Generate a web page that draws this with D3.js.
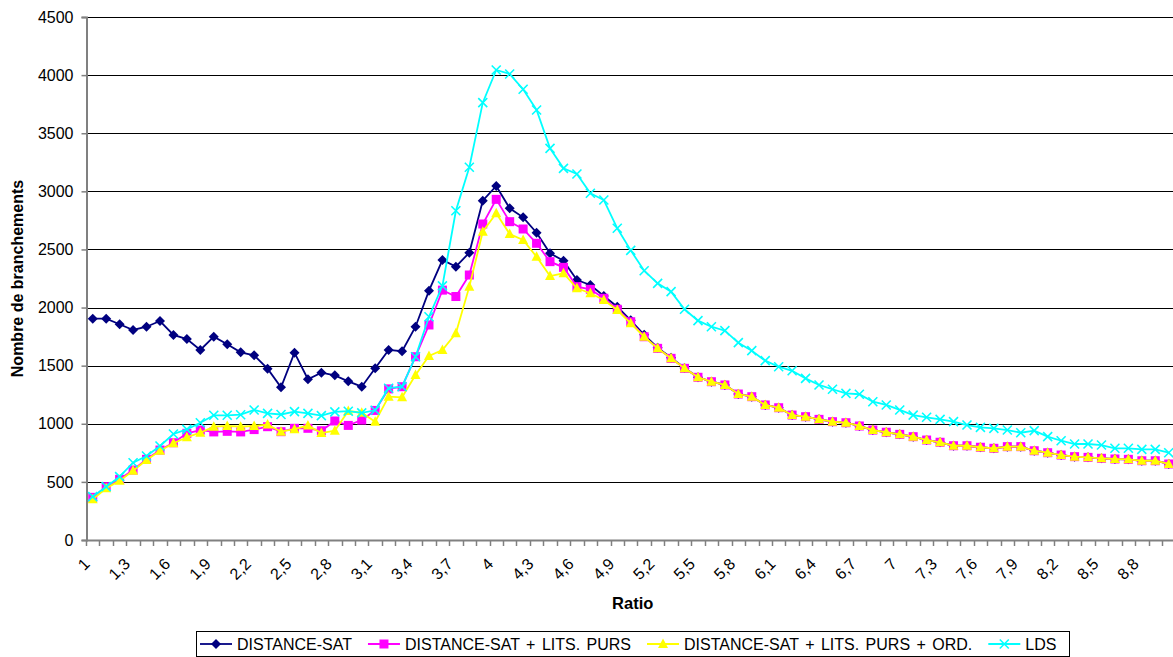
<!DOCTYPE html>
<html>
<head>
<meta charset="utf-8">
<title>Ratio</title>
<script src="https://cdn.jsdelivr.net/npm/d3@7/dist/d3.min.js"></script>
<style>
  body { margin: 0; background: #fff; }
  text { font-family: "Liberation Sans", Arial, sans-serif; fill: #000; }
</style>
</head>
<body>
<svg id="chart" width="1173" height="657"></svg>
<script>
// categories (ratio)
var ratios = [1, 1.1, 1.2, 1.3, 1.4, 1.5, 1.6, 1.7, 1.8, 1.9,
  2, 2.1, 2.2, 2.3, 2.4, 2.5, 2.6, 2.7, 2.8, 2.9,
  3, 3.1, 3.2, 3.3, 3.4, 3.5, 3.6, 3.7, 3.8, 3.9,
  4, 4.1, 4.2, 4.3, 4.4, 4.5, 4.6, 4.7, 4.8, 4.9,
  5, 5.1, 5.2, 5.3, 5.4, 5.5, 5.6, 5.7, 5.8, 5.9,
  6, 6.1, 6.2, 6.3, 6.4, 6.5, 6.6, 6.7, 6.8, 6.9,
  7, 7.1, 7.2, 7.3, 7.4, 7.5, 7.6, 7.7, 7.8, 7.9,
  8, 8.1, 8.2, 8.3, 8.4, 8.5, 8.6, 8.7, 8.8, 8.9, 9];

var distanceSat = [1904, 1904, 1856, 1807, 1835, 1884, 1764, 1729, 1635, 1749,
  1684, 1615, 1589, 1474, 1314, 1612, 1383, 1440, 1417, 1365,
  1319, 1477, 1635, 1624, 1835, 2145, 2409, 2352, 2472, 2919,
  3046, 2854, 2776, 2644, 2467, 2403, 2237, 2194, 2099, 2007,
  1890, 1765, 1655, 1568, 1480, 1400, 1362, 1334, 1256, 1233,
  1162, 1138, 1075, 1061, 1038, 1018, 1009, 981, 946, 927,
  909, 889, 860, 841, 811, 811, 798, 789, 803, 803,
  768, 751, 731, 717, 711, 703, 697, 694, 682, 682, 654];

var litsPurs = [367, 459, 522, 602, 694, 774, 837, 918, 946, 930,
  935, 930, 950, 975, 932, 961, 961, 940, 1024, 986,
  1032, 1115, 1300, 1319, 1577, 1850, 2150, 2095, 2280, 2719,
  2931, 2739, 2676, 2553, 2395, 2346, 2180, 2157, 2080, 1985,
  1878, 1749, 1649, 1563, 1477, 1400, 1362, 1334, 1256, 1233,
  1162, 1138, 1075, 1061, 1038, 1018, 1009, 981, 946, 927,
  909, 889, 860, 841, 811, 811, 798, 789, 803, 803,
  768, 751, 731, 717, 711, 703, 697, 694, 682, 682, 654];

var litsPursOrd = [350, 445, 510, 596, 688, 768, 832, 884, 923, 975,
  981, 975, 981, 993, 932, 953, 985, 920, 941, 1110,
  1095, 1018, 1233, 1228, 1420, 1583, 1635, 1778, 2180, 2653,
  2811, 2633, 2581, 2437, 2271, 2295, 2166, 2123, 2065, 1979,
  1864, 1749, 1649, 1563, 1477, 1400, 1362, 1334, 1256, 1233,
  1162, 1138, 1075, 1061, 1038, 1018, 1009, 981, 946, 927,
  909, 889, 860, 841, 811, 811, 798, 789, 803, 803,
  768, 751, 731, 717, 711, 703, 697, 694, 682, 682, 654];

var lds = [373, 459, 545, 665, 723, 809, 912, 952, 1009, 1073,
  1073, 1078, 1119, 1090, 1080, 1105, 1090, 1070, 1102, 1108,
  1094, 1116, 1306, 1319, 1577, 1921, 2187, 2833, 3207, 3763,
  4044, 4010, 3878, 3700, 3370, 3198, 3149, 2983, 2925, 2682,
  2492, 2317, 2208, 2137, 1985, 1887, 1835, 1801, 1698, 1629,
  1543, 1491, 1456, 1391, 1334, 1297, 1262, 1254, 1190, 1162,
  1119, 1075, 1056, 1038, 1018, 989, 969, 961, 946, 923,
  941, 889, 854, 826, 826, 817, 789, 789, 780, 780, 751];

var yTicks = [0, 500, 1000, 1500, 2000, 2500, 3000, 3500, 4000, 4500];

var seriesNames = ["DISTANCE-SAT", "DISTANCE-SAT + LITS. PURS",
  "DISTANCE-SAT + LITS. PURS + ORD.", "LDS"];

// styles
var styles = [
  { color: "#000080", marker: "diamond" },
  { color: "#FF00FF", marker: "square" },
  { color: "#FFFF00", marker: "triangle" },
  { color: "#00FFFF", marker: "cross" }
];
var allSeries = [distanceSat, litsPurs, litsPursOrd, lds];

var svg = d3.select("#chart"),
    margin = {top: 17, left: 86},
    plotW = 81 * 13.45,
    plotH = 523;

svg.append("rect").attr("width", 1173).attr("height", 657).attr("fill", "#fff");

var fmt = function(v) { return String(v).replace(".", ","); };

var x = d3.scaleBand().domain(ratios.map(fmt)).range([0, plotW]).padding(0),
    y = d3.scaleLinear().domain([0, 4500]).range([plotH, 0]);

var g = svg.append("g").attr("transform", "translate(" + margin.left + "," + margin.top + ")");

// gridlines
g.append("g").selectAll("line")
  .data(yTicks.filter(function(d) { return d > 0; }))
  .enter().append("line")
  .attr("x1", 0).attr("x2", plotW)
  .attr("y1", function(d) { return Math.round(y(d)) + 0.5; })
  .attr("y2", function(d) { return Math.round(y(d)) + 0.5; })
  .attr("stroke", "#000").attr("stroke-width", 1);

// y axis
var yAxis = g.append("g")
  .attr("transform", "translate(0.5,0)")
  .call(d3.axisLeft(y).tickValues(yTicks).tickFormat(d3.format("d")).tickSize(5).tickPadding(8));
yAxis.select(".domain").attr("stroke", "#808080").attr("stroke-width", 2);
yAxis.selectAll(".tick line").attr("stroke", "#808080").attr("stroke-width", 1.5);
yAxis.selectAll(".tick text").style("font-size", "16px").attr("fill", "#000")
  .style("font-family", "'Liberation Sans', Arial, sans-serif");

// x axis: ticks at category boundaries
var xg = g.append("g").attr("transform", "translate(0," + plotH + ")");
xg.append("line").attr("x1", 0).attr("x2", plotW).attr("y1", 0.5).attr("y2", 0.5)
  .attr("stroke", "#808080").attr("stroke-width", 2);
xg.selectAll(".xt").data(x.domain()).enter().append("line")
  .attr("class", "xt")
  .attr("x1", function(d) { return Math.round(x(d)) + 0.5; })
  .attr("x2", function(d) { return Math.round(x(d)) + 0.5; })
  .attr("y1", 0).attr("y2", 6)
  .attr("stroke", "#808080").attr("stroke-width", 1.5);
xg.selectAll(".xl").data(x.domain().filter(function(d, i) { return i % 3 === 0; }))
  .enter().append("text")
  .attr("class", "xl")
  .attr("transform", function(d) {
    return "translate(" + (x(d) + x.bandwidth() / 2 - 6) + ",21) rotate(-45)";
  })
  .attr("text-anchor", "end")
  .attr("dy", "0.35em")
  .style("font-size", "16px")
  .text(function(d) { return d; });

// axis titles
svg.append("text")
  .attr("transform", "translate(23," + (margin.top + plotH / 2) + ") rotate(-90)")
  .attr("text-anchor", "middle")
  .style("font-size", "16px").style("font-weight", "bold")
  .text("Nombre de branchements");
svg.append("text")
  .attr("x", margin.left + plotW / 2 + 2).attr("y", 609)
  .attr("text-anchor", "middle")
  .style("font-size", "16.5px").style("font-weight", "bold")
  .text("Ratio");

// markers
function drawMarker(sel, type, color) {
  if (type === "diamond") {
    sel.append("path").attr("d", "M0,-5L5,0L0,5L-5,0Z").attr("fill", color);
  } else if (type === "square") {
    sel.append("rect").attr("x", -4.5).attr("y", -4.5).attr("width", 9).attr("height", 9).attr("fill", color);
  } else if (type === "triangle") {
    sel.append("path").attr("d", "M0,-5.5L5,4L-5,4Z").attr("fill", color);
  } else {
    sel.append("path").attr("d", "M-4.5,-4.5L4.5,4.5M-4.5,4.5L4.5,-4.5")
      .attr("stroke", color).attr("stroke-width", 1.6).attr("fill", "none");
  }
}

var line = d3.line()
  .x(function(d, i) { return x(fmt(ratios[i])) + x.bandwidth() / 2; })
  .y(function(d) { return y(d); });

allSeries.forEach(function(vals, s) {
  var sg = g.append("g");
  sg.append("path").datum(vals)
    .attr("d", line)
    .attr("fill", "none")
    .attr("stroke", styles[s].color)
    .attr("stroke-width", 1.8);
  sg.selectAll(".m").data(vals).enter().append("g")
    .attr("class", "m")
    .attr("transform", function(d, i) {
      return "translate(" + (x(fmt(ratios[i])) + x.bandwidth() / 2) + "," + y(d) + ")";
    })
    .each(function() { drawMarker(d3.select(this), styles[s].marker, styles[s].color); });
});

// legend
var legend = svg.append("g");
legend.append("rect")
  .attr("x", 196.5).attr("y", 631.5).attr("width", 873).attr("height", 25)
  .attr("fill", "#fff").attr("stroke", "#000").attr("stroke-width", 1);
var lx = 200, ly = 644;
seriesNames.forEach(function(name, s) {
  var it = legend.append("g").attr("transform", "translate(" + lx + "," + ly + ")");
  it.append("line").attr("x1", 0).attr("x2", 32).attr("y1", 0).attr("y2", 0)
    .attr("stroke", styles[s].color).attr("stroke-width", 1.8);
  drawMarker(it.append("g").attr("transform", "translate(16,0)"), styles[s].marker, styles[s].color);
  var t = it.append("text").attr("x", 37).attr("y", 0).attr("dy", "0.35em")
    .style("font-size", "16px").style("word-spacing", "2px").text(name);
  lx += 37 + t.node().getComputedTextLength() + 16;
});
</script>
</body>
</html>
